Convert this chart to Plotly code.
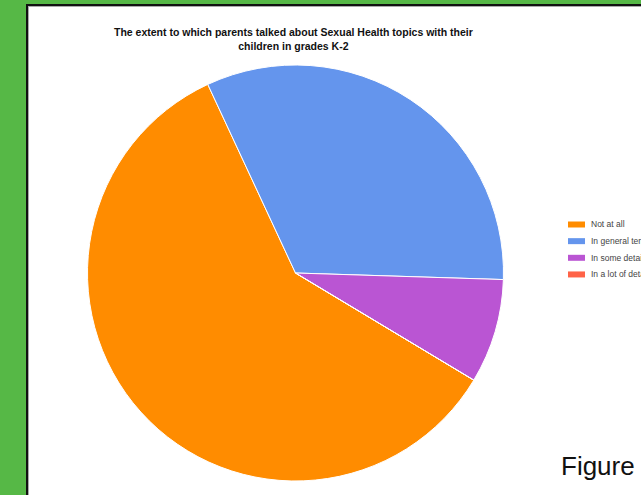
import plotly.graph_objects as go

categories = ["Not at all", "In general terms", "In some detail", "In a lot of detail"]
counts = [22, 12, 3, 0]
colors = ["#FF8C00", "#6495ED", "#BA55D3", "#FF6347"]
title_text = "The extent to which parents talked about Sexual Health topics with their<br>children in grades K-2"
caption_text = "Figure"

W, H = 641, 495

def px(x):
    return x / W

def py(y):
    return 1 - y / H

fig = go.Figure()
fig.add_trace(go.Pie(
    labels=categories,
    values=counts,
    marker=dict(colors=colors, line=dict(color="white", width=1)),
    sort=False,
    direction="clockwise",
    rotation=121,
    textinfo="none",
    showlegend=False,
    domain=dict(x=[px(87.5), px(503.5)], y=[py(481), py(65)]),
))

shapes = [
    dict(type="rect", xref="paper", yref="paper", x0=px(0), x1=px(26), y0=0, y1=1,
         fillcolor="#56B846", line=dict(width=0), layer="above"),
    dict(type="rect", xref="paper", yref="paper", x0=0, x1=1, y0=py(4), y1=1,
         fillcolor="#56B846", line=dict(width=0), layer="above"),
    dict(type="rect", xref="paper", yref="paper", x0=px(26), x1=px(28), y0=0, y1=py(4),
         fillcolor="#111111", line=dict(width=0), layer="above"),
    dict(type="rect", xref="paper", yref="paper", x0=px(26), x1=1, y0=py(6), y1=py(4),
         fillcolor="#111111", line=dict(width=0), layer="above"),
    dict(type="rect", xref="paper", yref="paper", x0=px(28), x1=px(29), y0=0, y1=py(6),
         fillcolor="#AAAAAA", line=dict(width=0), layer="above"),
    dict(type="rect", xref="paper", yref="paper", x0=px(28), x1=1, y0=py(7), y1=py(6),
         fillcolor="#AAAAAA", line=dict(width=0), layer="above"),
]

annotations = [
    dict(text="<b>" + title_text + "</b>", x=px(293.5), y=py(24), xref="paper", yref="paper",
         xanchor="center", yanchor="top", showarrow=False, align="center",
         font=dict(family="Arial", size=10.5, color="#111111")),
    dict(text=caption_text, x=px(559), y=py(466), xref="paper", yref="paper",
         xanchor="left", yanchor="middle", showarrow=False,
         font=dict(family="Arial", size=26, color="#111111")),
]

row_y0, row_gap = 224.5, 16.65
for i, (lab, col) in enumerate(zip(categories, colors)):
    yc = row_y0 + i * row_gap
    shapes.append(dict(type="rect", xref="paper", yref="paper",
                       x0=px(568), x1=px(585), y0=py(yc + 3), y1=py(yc - 3),
                       fillcolor=col, line=dict(width=0)))
    annotations.append(dict(text=lab, x=px(589), y=py(yc), xref="paper", yref="paper",
                            xanchor="left", yanchor="middle", showarrow=False,
                            font=dict(family="Arial", size=8.5, color="#444444")))

fig.update_layout(
    width=W, height=H,
    margin=dict(l=0, r=0, t=0, b=0),
    paper_bgcolor="white",
    plot_bgcolor="white",
    shapes=shapes,
    annotations=annotations,
)

fig.write_html("out.html", config={"displayModeBar": False},
               post_script="document.body.style.margin='0';")
